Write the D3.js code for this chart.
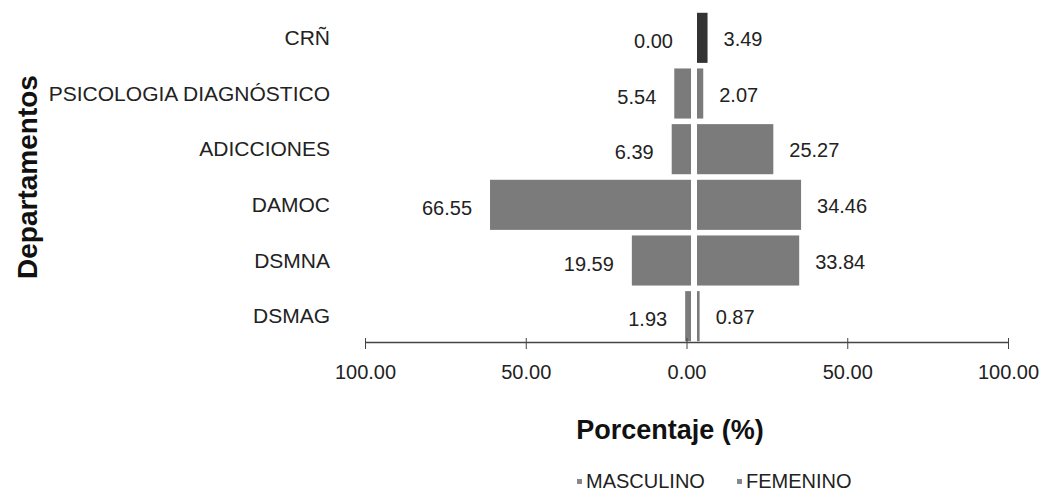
<!DOCTYPE html>
<html><head><meta charset="utf-8">
<script src="https://cdn.jsdelivr.net/npm/d3@7"></script>
<style>body{margin:0;background:#fff}svg{font-family:"Liberation Sans",Arial,sans-serif}</style>
</head><body>
<svg id="c" width="1044" height="492"></svg>
<script>
const categories = ["CRÑ","PSICOLOGIA DIAGNÓSTICO","ADICCIONES","DAMOC","DSMNA","DSMAG"];
const masculino = [0.00, 5.54, 6.39, 66.55, 19.59, 1.93];
const femenino  = [3.49, 2.07, 25.27, 34.46, 33.84, 0.87];
const axisTicks = [-100, -50, 0, 50, 100];
const seriesNames = ["MASCULINO","FEMENINO"];

const svg = d3.select("#c");
const y = d3.scaleBand().domain(categories).range([10, 344]).paddingInner(0.1).paddingOuter(0.05);
const bw = d3.scaleLinear().domain([0, 100]).range([0, 302]);
const maleRight = 691, femLeft = 697;
const x = d3.scaleLinear().domain([-100, 100]).range([365, 1008]);

// bars
const g = svg.append("g");
g.selectAll(".m").data(masculino).join("rect")
  .attr("x", d => maleRight - bw(d)).attr("y", (d,i) => y(categories[i]))
  .attr("width", d => bw(d)).attr("height", y.bandwidth()).attr("fill", "#7b7b7b");
g.selectAll(".f").data(femenino).join("rect")
  .attr("x", femLeft).attr("y", (d,i) => y(categories[i]))
  .attr("width", d => bw(d)).attr("height", y.bandwidth())
  .attr("fill", (d,i) => i === 0 ? "#333" : "#7b7b7b");

// value labels
g.selectAll(".ml").data(masculino).join("text")
  .attr("x", d => maleRight - bw(d) - 18).attr("y", (d,i) => y(categories[i]) + y.bandwidth()/2 + 10)
  .attr("text-anchor", "end").attr("font-size", 20).attr("fill", "#222").text(d => d.toFixed(2));
g.selectAll(".fl").data(femenino).join("text")
  .attr("x", d => femLeft + bw(d) + 16).attr("y", (d,i) => y(categories[i]) + y.bandwidth()/2 + 8)
  .attr("text-anchor", "start").attr("font-size", 20).attr("fill", "#222").text(d => d.toFixed(2));

// category labels
svg.append("g").selectAll("text").data(categories).join("text")
  .attr("x", 330).attr("y", d => y(d) + y.bandwidth()/2 + 7)
  .attr("text-anchor", "end").attr("font-size", 21).attr("fill", "#222").text(d => d);

// x axis
const ax = svg.append("g").attr("transform", "translate(0,342)")
  .call(d3.axisBottom(x).tickValues(axisTicks).tickSize(7).tickSizeOuter(0).tickFormat(d => Math.abs(d).toFixed(2)));
ax.select(".domain").attr("stroke", "#444").attr("stroke-width", 1.5);
ax.selectAll(".tick line").attr("stroke", "#444").attr("y1", -4);
ax.selectAll(".tick text").attr("font-size", 20).attr("fill", "#222").attr("y", 37).attr("dy", 0)
  .attr("font-family", '"Liberation Sans",Arial,sans-serif');

// titles
svg.append("text").attr("transform", "translate(37,177) rotate(-90)").attr("text-anchor", "middle")
  .attr("font-size", 28).attr("font-weight", "bold").attr("fill", "#111").text("Departamentos");
svg.append("text").attr("x", 670).attr("y", 439).attr("text-anchor", "middle")
  .attr("font-size", 27).attr("font-weight", "bold").attr("fill", "#111").text("Porcentaje (%)");

// legend
const lx = [577, 737];
const lg = svg.append("g").selectAll("g").data(seriesNames).join("g")
  .attr("transform", (d,i) => `translate(${lx[i]},488)`);
lg.append("rect").attr("x", 0).attr("y", -9).attr("width", 5).attr("height", 5).attr("fill", "#888");
lg.append("text").attr("x", 9).attr("y", 0).attr("font-size", 20).attr("fill", "#222").text(d => d);
</script>
</body></html>
